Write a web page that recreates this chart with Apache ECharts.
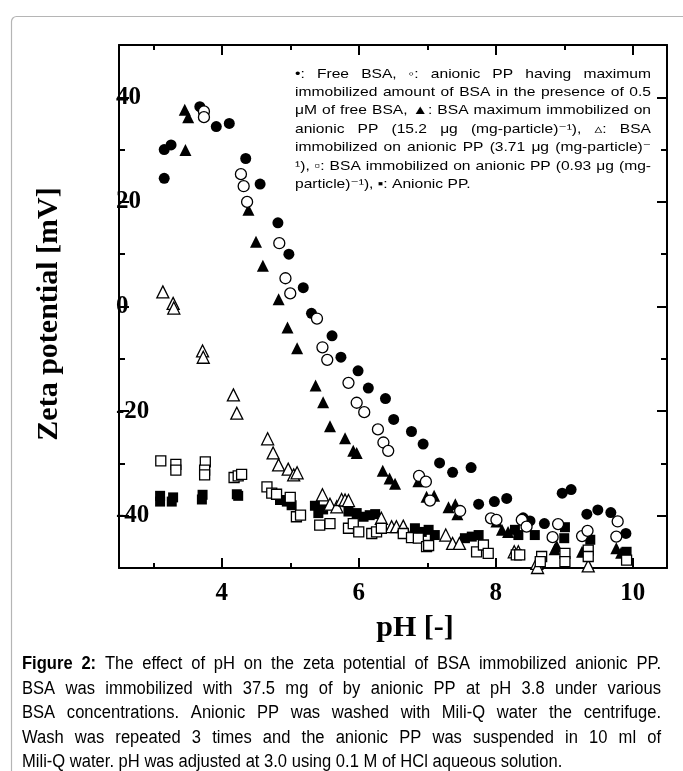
<!DOCTYPE html>
<html><head><meta charset="utf-8">
<script src="https://cdn.jsdelivr.net/npm/echarts@6/dist/echarts.min.js"></script>
<style>html,body{margin:0;padding:0;background:#fff}#c{width:683px;height:771px}</style>
</head><body><div id="c"></div>
<script>
// ---- data (pH, zeta potential mV) ----
const filledCirclePH = [3.16,3.16,3.26,3.68,3.92,4.11,4.35,4.56,4.82,4.98,5.19,5.31,5.61,5.74,5.99,6.14,6.39,6.51,6.77,6.94,7.18,7.37,7.64,7.75,7.98,8.16,8.40,8.50,8.71,8.97,9.10,9.33,9.49,9.68,9.90];
const filledCircleZeta = [24.5,30.0,30.9,38.2,34.4,35.0,28.3,23.4,16.0,10.0,3.6,-1.3,-5.6,-9.7,-12.3,-15.6,-17.6,-21.6,-23.9,-26.3,-29.9,-31.7,-30.8,-37.8,-37.3,-36.7,-40.4,-41.0,-41.5,-35.7,-35.0,-39.7,-38.9,-39.4,-43.4];
const openCirclePH = [3.74,3.74,4.28,4.32,4.37,4.84,4.93,5.00,5.39,5.47,5.54,5.85,5.97,6.08,6.28,6.36,6.43,6.88,6.98,7.04,7.48,7.93,8.01,8.38,8.45,8.83,8.91,9.26,9.34,9.76,9.78];
const openCircleZeta = [37.3,36.2,25.3,23.0,20.0,12.1,5.4,2.5,-2.3,-7.8,-10.2,-14.6,-18.4,-20.2,-23.5,-26.0,-27.6,-32.4,-33.5,-37.1,-39.1,-40.5,-40.8,-40.8,-42.1,-44.1,-41.6,-43.9,-42.9,-44.0,-41.1];
const filledTrianglePH = [3.46,3.51,3.47,4.39,4.50,4.60,4.83,4.96,5.10,5.37,5.48,5.58,5.80,5.92,5.97,6.35,6.45,6.53,6.87,6.99,7.10,7.31,7.41,7.44,8.01,8.09,8.18,8.86,8.89,9.26,9.76,9.83];
const filledTriangleZeta = [37.6,36.2,29.9,18.5,12.4,7.8,1.4,-4.0,-8.0,-15.1,-18.3,-22.9,-25.2,-27.6,-28.0,-31.4,-32.9,-33.9,-33.4,-36.4,-36.2,-38.4,-37.8,-39.7,-41.1,-42.7,-43.1,-46.4,-45.8,-46.9,-46.2,-47.1];
const openTrianglePH = [3.14,3.29,3.30,3.72,3.73,4.17,4.22,4.67,4.75,4.83,4.97,5.05,5.10,5.47,5.58,5.68,5.75,5.80,5.85,6.33,6.48,6.55,6.65,7.27,7.37,7.47,8.27,8.33,8.60,8.61,9.35];
const openTriangleZeta = [2.8,0.6,-0.3,-8.5,-9.7,-16.9,-20.4,-25.3,-28.0,-30.3,-31.1,-32.2,-31.8,-36.0,-37.8,-38.3,-36.9,-37.0,-37.1,-40.5,-42.1,-42.1,-42.0,-43.7,-45.3,-45.3,-46.9,-46.9,-49.1,-49.9,-49.6];
const openSquarePH = [3.11,3.33,3.33,3.76,3.75,3.75,4.18,4.24,4.29,4.66,4.73,4.80,5.00,5.09,5.15,5.43,5.58,5.85,5.92,6.00,6.19,6.26,6.33,6.65,6.77,6.87,6.99,7.02,7.72,7.82,7.89,8.30,8.35,8.67,8.65,9.01,9.01,9.35,9.35,9.91];
const openSquareZeta = [-29.5,-30.2,-31.3,-29.7,-31.3,-32.2,-32.7,-32.4,-32.1,-34.5,-35.7,-35.9,-36.5,-40.2,-39.9,-41.8,-41.5,-42.4,-41.5,-43.1,-43.4,-43.1,-42.4,-43.4,-44.2,-44.3,-45.9,-45.7,-46.9,-45.6,-47.2,-47.5,-47.5,-47.8,-48.8,-47.2,-48.8,-46.6,-47.8,-48.5];
const filledSquarePH = [3.10,3.10,3.27,3.29,3.72,3.71,4.22,4.24,4.85,4.95,5.02,5.36,5.41,5.48,5.85,5.97,6.07,6.16,6.24,6.82,6.92,7.02,7.11,7.55,7.65,7.75,8.28,8.33,8.57,9.01,9.00,9.38,9.91];
const filledSquareZeta = [-37.3,-36.2,-37.3,-36.5,-36.0,-36.9,-35.9,-36.2,-37.0,-37.3,-38.0,-38.1,-39.5,-38.8,-39.2,-39.5,-40.2,-39.9,-39.7,-42.4,-43.1,-42.7,-43.7,-44.3,-44.0,-43.7,-42.7,-43.7,-43.7,-42.2,-44.3,-44.6,-46.9];

// ---- ticks ----
const xTickMajor = [4, 6, 8, 10];
const xTickMinor = [3, 5, 7, 9];
const yTickMajor = [-40, -20, 0, 20, 40];
const yTickMinor = [-30, -10, 10, 30];

// ---- texts ----
const xAxisTitle = 'pH [-]';
const yAxisTitle = 'Zeta potential [mV]';
const legendLines = [
  '\u2022: Free BSA, \u25E6: anionic PP having maximum',
  'immobilized amount of BSA in the presence of 0.5',
  '\u03BCM of free BSA, \u25B2: BSA maximum immobilized on',
  'anionic PP (15.2 \u03BCg (mg-particle)\u207B\u00B9), \u25B5: BSA',
  'immobilized on anionic PP (3.71 \u03BCg (mg-particle)\u207B',
  '\u00B9), \u25AB: BSA immobilized on anionic PP (0.93 \u03BCg (mg-',
  'particle)\u207B\u00B9), \u25AA: Anionic PP.'
];
const captionLines = [
  'Figure 2: The effect of pH on the zeta potential of BSA immobilized anionic PP.',
  'BSA was immobilized with 37.5 mg of by anionic PP at pH 3.8 under various',
  'BSA concentrations. Anionic PP was washed with Mili-Q water the centrifuge.',
  'Wash was repeated 3 times and the anionic PP was suspended in 10 ml of',
  'Mili-Q water. pH was adjusted at 3.0 using 0.1 M of HCl aqueous solution.'
];

function zip(a, b) { return a.map((v, i) => [v, b[i]]); }

const measureCtx = document.createElement('canvas').getContext('2d');
function justified(lines, o) {
  const els = [];
  const meas = lines.map((line, li) => {
    const words = line.split(' ').map((t, wi) => {
      const bold = o.boldWords && li === 0 && wi < o.boldWords;
      const font = bold ? o.boldFont : o.font;
      measureCtx.font = font;
      return { t, font, w: measureCtx.measureText(t).width };
    });
    measureCtx.font = o.font;
    const sp = measureCtx.measureText(' ').width;
    const nat = words.reduce((s, w) => s + w.w, 0) + sp * (words.length - 1);
    return { words, sp, nat };
  });
  let maxNat = 0;
  meas.forEach(m => { maxNat = Math.max(maxNat, m.nat * o.sx); });
  const s = o.sx * Math.min(1, o.width / maxNat);
  meas.forEach((m, li) => {
    const last = li === meas.length - 1;
    const sumW = m.words.reduce((a, w) => a + w.w, 0) * s;
    const gap = (last || m.words.length < 2) ? m.sp * s : (o.width - sumW) / (m.words.length - 1);
    let x = o.x;
    m.words.forEach(w => {
      els.push({ type: 'text', x: x, y: o.y + li * o.lh, scaleX: s, silent: true,
        style: { text: w.t, font: w.font, fill: '#000', align: 'left', verticalAlign: 'middle' } });
      x += w.w * s + gap;
    });
  });
  return els;
}

const serif = '"Liberation Serif", "Times New Roman", serif';
const sans = '"Liberation Sans", Arial, "DejaVu Sans", sans-serif';

const graphics = [
  { type: 'rect', silent: true, z: -10, shape: { x: 11.5, y: 16.5, width: 720, height: 820, r: 5 },
    style: { fill: 'none', stroke: '#b5b5b5', lineWidth: 1.2 } },
  { type: 'text', x: 415, y: 628, silent: true,
    style: { text: xAxisTitle, font: 'bold 30px ' + serif, fill: '#000', align: 'center', verticalAlign: 'middle' } },
  { type: 'text', x: 49, y: 314, rotation: Math.PI / 2, silent: true,
    style: { text: yAxisTitle, font: 'bold 30px ' + serif, fill: '#000', align: 'center', verticalAlign: 'middle' } }
].concat(
  justified(legendLines, { x: 295, y: 74, lh: 18.4, width: 356, font: '13px ' + sans, sx: 1.2 }),
  justified(captionLines, { x: 22, y: 664, lh: 24.6, width: 639,
    font: '18px "Liberation Sans Narrow", "Arial Narrow", ' + sans,
    boldFont: 'bold 18px "Liberation Sans Narrow", "Arial Narrow", ' + sans, boldWords: 2, sx: 0.92 })
);

const tickLabelStyle = { fontFamily: serif, fontWeight: 'bold', fontSize: 25, color: '#000' };
const lineSt = { color: '#000', width: 2 };
function xAx(pos, vals, len, showLine, label) {
  return { type: 'value', min: 2.5, max: 10.5, position: pos,
    axisLine: { show: showLine, onZero: false, lineStyle: lineSt },
    axisTick: { show: true, inside: true, length: len, customValues: vals, lineStyle: { color: '#000', width: 2 } },
    axisLabel: label ? Object.assign({ customValues: xTickMajor, margin: 13 }, tickLabelStyle) : { show: false },
    splitLine: { show: false } };
}
function yAx(pos, vals, len, showLine, label) {
  return { type: 'value', min: -50, max: 50, interval: 10, position: pos,
    axisLine: { show: showLine, onZero: false, lineStyle: lineSt },
    axisTick: { show: true, inside: true, length: len, customValues: vals, lineStyle: { color: '#000', width: 2 } },
    axisLabel: label ? Object.assign({ customValues: yTickMajor, margin: 3, align: 'left' }, tickLabelStyle) : { show: false },
    splitLine: { show: false } };
}

function sc(name, ph, z, symbol, size, open) {
  return { name, type: 'scatter', xAxisIndex: 0, yAxisIndex: 0, data: zip(ph, z),
    symbol, symbolSize: size, clip: false,
    itemStyle: open ? { color: '#fff', borderColor: '#000', borderWidth: 1.3, opacity: 1 } : { color: '#000', opacity: 1 } };
}

const chart = echarts.init(document.getElementById('c'), null, { renderer: 'canvas' });
chart.setOption({
  animation: false,
  backgroundColor: '#fff',
  grid: { left: 119, right: 16, top: 45, bottom: 203, containLabel: false },
  xAxis: [
    xAx('bottom', xTickMajor, 10, true, true),
    xAx('bottom', xTickMinor, 5, false, false),
    xAx('top', xTickMajor, 10, true, false),
    xAx('top', xTickMinor, 5, false, false)
  ],
  yAxis: [
    yAx('left', yTickMajor, 10, true, true),
    yAx('left', yTickMinor, 6, false, false),
    yAx('right', yTickMajor, 10, true, false),
    yAx('right', yTickMinor, 6, false, false)
  ],
  series: [
    sc('Free BSA', filledCirclePH, filledCircleZeta, 'circle', 11, false),
    sc('BSA max immobilized (15.2)', filledTrianglePH, filledTriangleZeta, 'triangle', 12, false),
    sc('Anionic PP', filledSquarePH, filledSquareZeta, 'rect', 10, false),
    sc('Max immobilized with 0.5 uM free BSA', openCirclePH, openCircleZeta, 'circle', 11, true),
    sc('BSA immobilized (3.71)', openTrianglePH, openTriangleZeta, 'triangle', 12, true),
    sc('BSA immobilized (0.93)', openSquarePH, openSquareZeta, 'rect', 10, true)
  ],
  graphic: graphics
});
</script>
</body></html>
